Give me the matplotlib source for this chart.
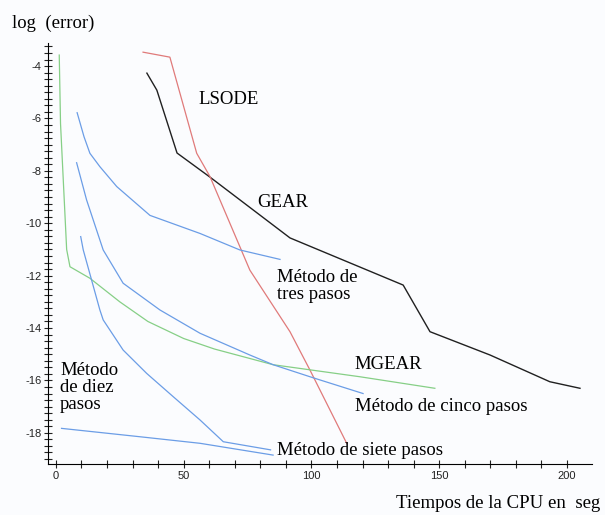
import matplotlib.pyplot as plt
import numpy as np
from matplotlib.ticker import MultipleLocator

plt.rcParams['axes.unicode_minus'] = False

## curves: cpu time (seg) vs log(error)

gear_t = [35.6, 39.5, 47.4, 60.3, 91.6, 135.9, 146.4, 169.9, 193.3, 205.1]
gear_e = [-4.27, -4.92, -7.32, -8.24, -10.56, -12.36, -14.14, -15.03, -16.05, -16.3]

lsode_t = [34.1, 44.6, 55.1, 60.3, 75.9, 91.6, 99.4, 113.8]
lsode_e = [-3.47, -3.66, -7.33, -8.22, -11.79, -14.14, -15.6, -18.4]

mgear_t = [1.3, 1.8, 4.2, 5.5, 13.3, 25.0, 36.0, 50.0, 62.0, 85.0, 119.0, 148.3]
mgear_e = [-3.58, -6.19, -11.0, -11.66, -12.1, -13.0, -13.75, -14.4, -14.8, -15.4, -15.86, -16.3]

tres_t = [8.3, 11.0, 13.3, 17.2, 23.8, 36.8, 56.4, 72.0, 87.7]
tres_e = [-5.78, -6.7, -7.33, -7.84, -8.6, -9.7, -10.39, -11.02, -11.38]

cinco_t = [8.1, 12.0, 18.5, 26.3, 40.7, 56.4, 75.9, 85.0, 100.7, 120.2]
cinco_e = [-7.69, -9.11, -11.02, -12.29, -13.31, -14.2, -15.03, -15.4, -15.9, -16.5]

siete_t = [9.7, 10.7, 17.2, 18.5, 26.3, 35.5, 45.9, 56.4, 65.5, 84.0]
siete_e = [-10.51, -11.02, -13.31, -13.69, -14.84, -15.73, -16.62, -17.51, -18.34, -18.65]

diez_t = [2.2, 32.9, 56.4, 85.0]
diez_e = [-17.83, -18.15, -18.4, -18.85]

## plot and save

fig = plt.figure(figsize=(6.05, 5.15), dpi=100)
fig.patch.set_facecolor('#fbfcfe')
ax = fig.add_axes([48/605, 51/515, 544/605, 421/515])
ax.set_facecolor('#fbfcfe')

ax.plot(gear_t, gear_e, color='#202020', lw=1.0)
ax.plot(lsode_t, lsode_e, color='#e07a7a', lw=0.9)
ax.plot(mgear_t, mgear_e, color='#86cf86', lw=0.9)
blue = '#6b9de6'
ax.plot(tres_t, tres_e, color=blue, lw=0.9)
ax.plot(cinco_t, cinco_e, color=blue, lw=0.9)
ax.plot(siete_t, siete_e, color=blue, lw=0.9)
ax.plot(diez_t, diez_e, color=blue, lw=0.9)

ax.set_xlim(-3.1, 209.8)
ax.set_ylim(-19.19, -3.12)
ax.spines['top'].set_visible(False)
ax.spines['right'].set_visible(False)
ax.set_xticks([0, 50, 100, 150, 200])
ax.set_yticks(np.arange(-18, -3, 2))
ax.xaxis.set_minor_locator(MultipleLocator(10))
ax.yaxis.set_minor_locator(MultipleLocator(0.25))
ax.tick_params(which='both', direction='inout', length=5.5, width=0.8,
               labelsize=8, pad=2, colors='#222222')
for lab in ax.get_xticklabels() + ax.get_yticklabels():
    lab.set_family('Liberation Sans')

serif = 'Liberation Serif'
fs = 13.5
ax.text(55.6, -5.26, 'LSODE', family=serif, fontsize=fs, va='center')
ax.text(78.7, -9.19, 'GEAR', family=serif, fontsize=fs, va='center')
ax.text(86.5, -11.75, 'Método de\ntres pasos', family=serif, fontsize=fs,
        va='top', linespacing=1.0)
ax.text(117, -15.41, 'MGEAR', family=serif, fontsize=fs, va='center')
ax.text(117, -17.0, 'Método de cinco pasos', family=serif, fontsize=fs, va='center')
ax.text(86.5, -18.66, 'Método de siete pasos', family=serif, fontsize=fs, va='center')
ax.text(1.6, -15.3, 'Método\nde diez\npasos', family=serif, fontsize=fs,
        va='top', linespacing=1.0)

fig.text(12/605, 1 - 23/515, 'log  (error)', family=serif, fontsize=fs,
         ha='left', va='center')
fig.text(600/605, 1 - 503/515, 'Tiempos de la CPU en  seg', family=serif,
         fontsize=fs, ha='right', va='center')

plt.savefig('out.png', dpi=100, facecolor=fig.get_facecolor())
